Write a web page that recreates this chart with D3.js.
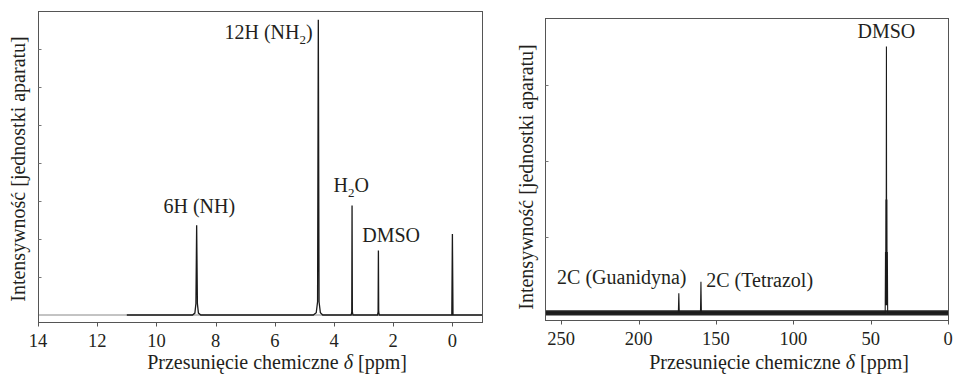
<!DOCTYPE html>
<html lang="pl">
<head>
<meta charset="UTF-8">
<title>Widma NMR</title>
<script src="https://cdn.jsdelivr.net/npm/d3@7"></script>
<style>
  body { margin: 0; background: #fff; }
  svg { display: block; font-family: "Liberation Serif", "DejaVu Serif", serif; }
  .frame { fill: none; stroke: #555; stroke-width: 1; }
  .tick-label { font-size: 18.5px; fill: #231f20; }
  .title { font-size: 20px; fill: #231f20; }
  .peak-label { font-size: 20px; fill: #231f20; }
</style>
</head>
<body>
<svg id="chart" width="954" height="375"></svg>
<script>
// 1H spectrum: [ppm, intensity]
const h1Spectrum = [
  [11.0, 0], [8.78, 0], [8.70, 0.05], [8.665, 0.3], [8.64, 2.36], [8.615, 0.3], [8.58, 0.05], [8.50, 0],
  [4.70, 0], [4.60, 0.06], [4.555, 0.35], [4.53, 7.77], [4.505, 0.35], [4.46, 0.06], [4.38, 0],
  [3.42, 0], [3.40, 0.08], [3.39, 2.88], [3.38, 0.08], [3.36, 0],
  [2.53, 0], [2.51, 0.08], [2.50, 1.70], [2.49, 0.08], [2.47, 0],
  [0.02, 0], [0.00, 2.13], [-0.02, 0], [-1.0, 0]
];
const h1Ticks = [14, 12, 10, 8, 6, 4, 2, 0];
const h1IntensityTicks = [1, 2, 3, 4, 5, 6, 7];
const h1Labels = [
  { text: "12H (NH", sub: "2", after: ")", ppm: 4.72, y: 7.26, anchor: "end" },
  { text: "6H (NH)", ppm: 8.55, y: 2.69, anchor: "middle" },
  { text: "H", sub: "2", after: "O", ppm: 3.42, y: 3.24, anchor: "middle" },
  { text: "DMSO", ppm: 2.07, y: 1.92, anchor: "middle" }
];

// 13C spectrum: [ppm, intensity]
const c13Spectrum = [
  [260.5, 0], [174.3, 0], [174.0, 0.256], [173.7, 0],
  [160.0, 0], [159.7, 0.41], [159.4, 0],
  [40.6, 0], [40.4, 0.8], [40.3, 0.1], [40.15, 1.49], [40.0, 0.1], [39.8, 3.5],
  [39.65, 0.1], [39.5, 1.49], [39.35, 0.1], [39.2, 0.8], [39.0, 0], [0, 0]
];
const c13Noise = [[260.5, -0.035, 0.035], [0, -0.035, 0.035]];
const c13Ticks = [250, 200, 150, 100, 50, 0];
const c13IntensityTicks = [1, 2, 3];
const c13Labels = [
  { text: "DMSO", ppm: 39.8, y: 3.615, anchor: "middle" },
  { text: "2C (Guanidyna)", ppm: 252.7, y: 0.374, anchor: "start" },
  { text: "2C (Tetrazol)", ppm: 156.3, y: 0.335, anchor: "start" }
];

const xTitle = "Przesunięcie chemiczne ";
const yTitle = "Intensywność [jednostki aparatu]";

const svg = d3.select("#chart");

function drawPanel(cfg) {
  const x = d3.scaleLinear().domain(cfg.xDomain).range([cfg.left, cfg.right]);
  const y = d3.scaleLinear().domain(cfg.yDomain).range([cfg.bottom, cfg.top]);
  const g = svg.append("g");

  // baseline / noise band
  if (cfg.noise) {
    g.append("path")
      .datum(cfg.noise)
      .attr("fill", "#222")
      .attr("d", d3.area().x(d => x(d[0])).y0(d => y(d[1])).y1(d => y(d[2])));
  } else {
    g.append("line")
      .attr("x1", cfg.left).attr("x2", cfg.right)
      .attr("y1", y(0)).attr("y2", y(0))
      .attr("stroke", "#888").attr("stroke-width", 1);
  }

  g.append("path")
    .datum(cfg.spectrum)
    .attr("fill", "none")
    .attr("stroke", "#1a1a1a")
    .attr("stroke-width", cfg.noise ? 1.1 : 1.3)
    .attr("d", d3.line().x(d => x(d[0])).y(d => y(d[1])));

  // frame
  g.append("rect").attr("class", "frame")
    .attr("x", cfg.left + 0.5).attr("y", cfg.top + 0.5)
    .attr("width", cfg.right - cfg.left).attr("height", cfg.bottom - cfg.top);

  // x axis ticks
  const xa = g.append("g");
  cfg.xTicks.forEach(t => {
    xa.append("line")
      .attr("x1", Math.round(x(t)) + 0.5).attr("x2", Math.round(x(t)) + 0.5)
      .attr("y1", cfg.bottom + 0.5).attr("y2", cfg.bottom + 4.5)
      .attr("stroke", "#555");
    xa.append("text").attr("class", "tick-label")
      .attr("x", x(t)).attr("y", cfg.bottom + 24.5)
      .attr("text-anchor", "middle")
      .text(t);
  });

  // y ticks (inward, no labels)
  cfg.yTicks.forEach(t => {
    g.append("line")
      .attr("x1", cfg.left + 0.5).attr("x2", cfg.left + 3.5)
      .attr("y1", Math.round(y(t)) + 0.5).attr("y2", Math.round(y(t)) + 0.5)
      .attr("stroke", "#777");
  });

  // titles
  const xt = g.append("text").attr("class", "title")
    .attr("x", cfg.xTitleX).attr("y", 369)
    .attr("text-anchor", "middle");
  xt.append("tspan").text(xTitle);
  xt.append("tspan").attr("font-style", "italic").text("δ");
  xt.append("tspan").text(" [ppm]");

  g.append("text").attr("class", "title")
    .attr("transform", `translate(${cfg.yTitleX},${cfg.yTitleY}) rotate(-90)`)
    .attr("text-anchor", "middle")
    .text(yTitle);

  // peak labels
  cfg.labels.forEach(l => {
    const t = g.append("text").attr("class", "peak-label")
      .attr("x", x(l.ppm)).attr("y", y(l.y))
      .attr("text-anchor", l.anchor);
    t.append("tspan").text(l.text);
    if (l.sub) {
      t.append("tspan").attr("font-size", "13px").attr("dy", 5).text(l.sub);
      t.append("tspan").attr("dy", -5).text(l.after);
    }
  });
}

drawPanel({
  left: 38, right: 482, top: 11, bottom: 322,
  xDomain: [14, -1], yDomain: [-0.184, 8.0],
  spectrum: h1Spectrum, xTicks: h1Ticks, yTicks: h1IntensityTicks,
  labels: h1Labels, xTitleX: 277, yTitleX: 25, yTitleY: 169
});

drawPanel({
  left: 545, right: 948, top: 18, bottom: 320,
  xDomain: [260.5, 0], yDomain: [-0.094, 3.874],
  spectrum: c13Spectrum, noise: c13Noise, xTicks: c13Ticks, yTicks: c13IntensityTicks,
  labels: c13Labels, xTitleX: 779, yTitleX: 533, yTitleY: 177
});
</script>
</body>
</html>
